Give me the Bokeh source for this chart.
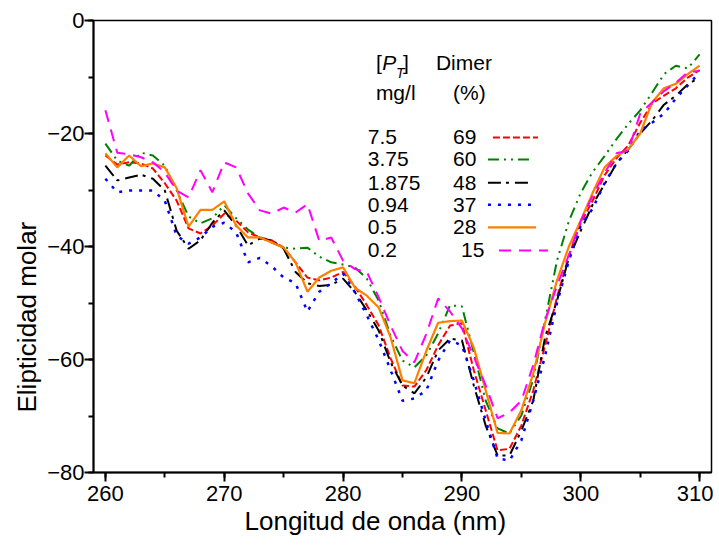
from bokeh.plotting import figure
from bokeh.models import Range1d, SingleIntervalTicker, Label, Title
from bokeh.embed import file_html
from bokeh.resources import INLINE

FONT = "Liberation Sans"

# ---------------- data ----------------
wavelength = list(range(260, 311))

conc_labels = ["7.5", "3.75", "1.875", "0.94", "0.5", "0.2"]
dimer_labels = ["69", "60", "48", "37", "28", "15"]

ell_7_5 = [-23.9, -25.5, -25.1, -25.3, -26.2, -28.8, -31.9, -36.8, -37.7, -36.3,
           -34.2, -35.4, -37.5, -38.4, -38.9, -40.2, -42.8, -45.5, -46.0, -45.5,
           -44.5, -47.1, -50.4, -54.0, -59.8, -64.6, -64.8, -61.9, -57.5, -54.0,
           -53.6, -61.9, -69.0, -76.1, -75.8, -71.7, -65.5, -57.5, -49.0, -41.6,
           -35.8, -31.9, -27.4, -24.4, -22.1, -18.1, -14.7, -13.3, -12.0, -10.1,
           -8.8]
ell_3_75 = [-21.8, -24.8, -25.7, -23.4, -23.9, -25.7, -30.1, -34.7, -35.9, -35.0,
            -32.7, -35.0, -37.0, -38.4, -39.3, -40.2, -40.4, -40.2, -41.8, -42.8,
            -43.2, -43.7, -45.7, -49.6, -55.8, -60.2, -61.4, -59.3, -55.4, -50.4,
            -50.6, -58.8, -67.3, -72.2, -73.1, -69.9, -63.5, -53.0, -42.5, -35.5,
            -30.5, -26.8, -24.0, -21.0, -18.3, -15.9, -12.8, -9.5, -8.0, -8.5,
            -6.0]
ell_1_875 = [-25.7, -28.3, -27.8, -27.3, -28.0, -30.1, -37.2, -40.4, -38.9, -35.8,
             -33.6, -36.3, -39.8, -38.6, -38.9, -40.4, -44.5, -46.5, -47.0, -46.8,
             -45.7, -48.1, -51.3, -54.9, -60.5, -64.6, -66.0, -63.2, -58.4, -56.3,
             -56.6, -64.6, -71.7, -77.0, -77.0, -72.6, -67.3, -56.0, -49.6, -42.0,
             -37.2, -32.6, -29.0, -25.3, -22.8, -20.0, -17.7, -14.9, -13.3, -11.3,
             -10.1]
ell_0_94 = [-28.0, -30.4, -30.1, -30.1, -30.1, -31.9, -38.1, -39.5, -38.4, -36.5,
            -35.8, -37.5, -42.8, -42.0, -43.5, -45.5, -46.5, -51.5, -48.0, -46.5,
            -44.8, -48.1, -52.2, -56.6, -61.9, -67.3, -66.9, -65.5, -60.2, -56.6,
            -57.5, -63.7, -70.8, -77.5, -77.9, -74.3, -67.3, -59.3, -50.0, -42.5,
            -36.3, -33.3, -28.8, -25.3, -23.0, -19.5, -18.1, -16.5, -13.8, -11.5,
            -9.2]
ell_0_5 = [-23.5, -26.0, -23.9, -25.8, -25.3, -26.0, -29.7, -36.5, -33.5, -33.5,
           -32.0, -36.3, -38.4, -38.4, -39.3, -40.2, -42.8, -48.0, -45.5, -44.3,
           -43.7, -47.3, -48.7, -50.8, -56.1, -63.7, -64.2, -58.5, -53.5, -53.2,
           -53.1, -57.9, -65.5, -73.0, -73.1, -69.0, -62.5, -53.5, -46.0, -40.0,
           -35.4, -30.5, -26.0, -24.0, -22.8, -20.0, -14.5, -12.0, -11.2, -9.5,
           -8.0]
ell_0_2 = [-15.9, -23.4, -23.7, -24.2, -25.1, -26.9, -30.1, -31.3, -26.5, -30.4,
           -25.1, -26.0, -30.6, -33.6, -34.2, -33.1, -34.0, -32.5, -39.0, -38.4,
           -42.5, -44.0, -44.5, -49.0, -54.0, -58.5, -60.5, -55.5, -49.2, -51.5,
           -54.5, -59.5, -64.6, -70.4, -69.4, -67.3, -61.0, -53.0, -47.0, -41.5,
           -35.5, -31.0, -27.0, -23.5, -23.0, -16.5, -14.5, -12.5, -11.0, -9.2,
           -8.9]

series = [ell_7_5, ell_3_75, ell_1_875, ell_0_94, ell_0_5, ell_0_2]

# ---------------- styles ----------------
colors = ["#FF0000", "#008000", "#000000", "#0000FF", "#FF8000", "#FF00FF"]
dashes = ["7 3", "11 5 2 5 2 5", "13 5 3 6", "3 7", "solid", "12 8"]
widths = [2, 2, 2, 2.5, 2.2, 2]

p = figure(width=713, height=544, output_backend="svg", toolbar_location=None,
           x_range=Range1d(259, 311), y_range=Range1d(-80, 0),
           min_border_left=93, min_border_right=2, min_border_top=20,
           min_border_bottom=72)
p.background_fill_color = "white"
p.border_fill_color = "white"
p.outline_line_color = "black"
p.outline_line_width = 1.5
p.grid.visible = False

p.xaxis.ticker = SingleIntervalTicker(interval=10, num_minor_ticks=2)
p.yaxis.ticker = SingleIntervalTicker(interval=20, num_minor_ticks=2)
for ax in (p.xaxis[0], p.yaxis[0]):
    ax.axis_line_width = 2
    ax.axis_line_color = "black"
    ax.major_tick_line_width = 2
    ax.minor_tick_line_width = 2
    ax.major_tick_in = 0
    ax.major_tick_out = 9
    ax.minor_tick_in = 0
    ax.minor_tick_out = 5
    ax.major_label_text_font = FONT
    ax.major_label_text_font_size = "22px"
    ax.major_label_text_color = "black"
p.yaxis.major_label_standoff = 0
p.xaxis.major_label_standoff = 4

# axis titles, placed off-centre as in the original
p.add_layout(Title(text="Longitud de onda (nm)", align="left", offset=151,
                   standoff=0, text_font=FONT, text_font_size="26px",
                   text_font_style="normal", text_color="black"), "below")
p.add_layout(Title(text="Elipticidad molar", align="left", offset=60,
                   standoff=6, text_font=FONT, text_font_size="26px",
                   text_font_style="normal", text_color="black"), "left")

for ys, c, d, w in zip(series, colors, dashes, widths):
    p.line(wavelength, ys, line_color=c, line_dash=d, line_width=w)


def lbl(x, y, t, size="21px", style="normal"):
    p.add_layout(Label(x=x, y=y, text=t, text_font=FONT, text_font_size=size,
                       text_font_style=style, text_baseline="middle",
                       text_align="left", text_color="black"))


# ---------------- legend (text table) ----------------
lbl(282.76, -7.4, "[")
lbl(283.30, -7.4, "P", style="italic")
lbl(284.45, -9.3, "T", size="14px", style="italic")
lbl(285.05, -7.4, "]")
lbl(287.81, -7.4, "Dimer")
lbl(282.76, -12.7, "mg/l")
lbl(289.25, -12.7, "(%)")

row_y = [-20.7, -24.6, -28.7, -32.6, -36.6, -40.7]
pct_x = [289.25, 289.25, 289.25, 289.25, 289.25, 289.92]
seg_x0 = [292.61, 292.19, 292.19, 292.19, 292.19, 293.12]
seg_x1 = [296.40, 295.81, 295.56, 295.81, 296.24, 297.25]
for i in range(len(conc_labels)):
    lbl(282.08, row_y[i], conc_labels[i])
    lbl(pct_x[i], row_y[i], dimer_labels[i])
    p.line([seg_x0[i], seg_x1[i]], [row_y[i], row_y[i]], line_color=colors[i],
           line_dash=dashes[i], line_width=widths[i])

open("out.html", "w").write(file_html(p, INLINE))
